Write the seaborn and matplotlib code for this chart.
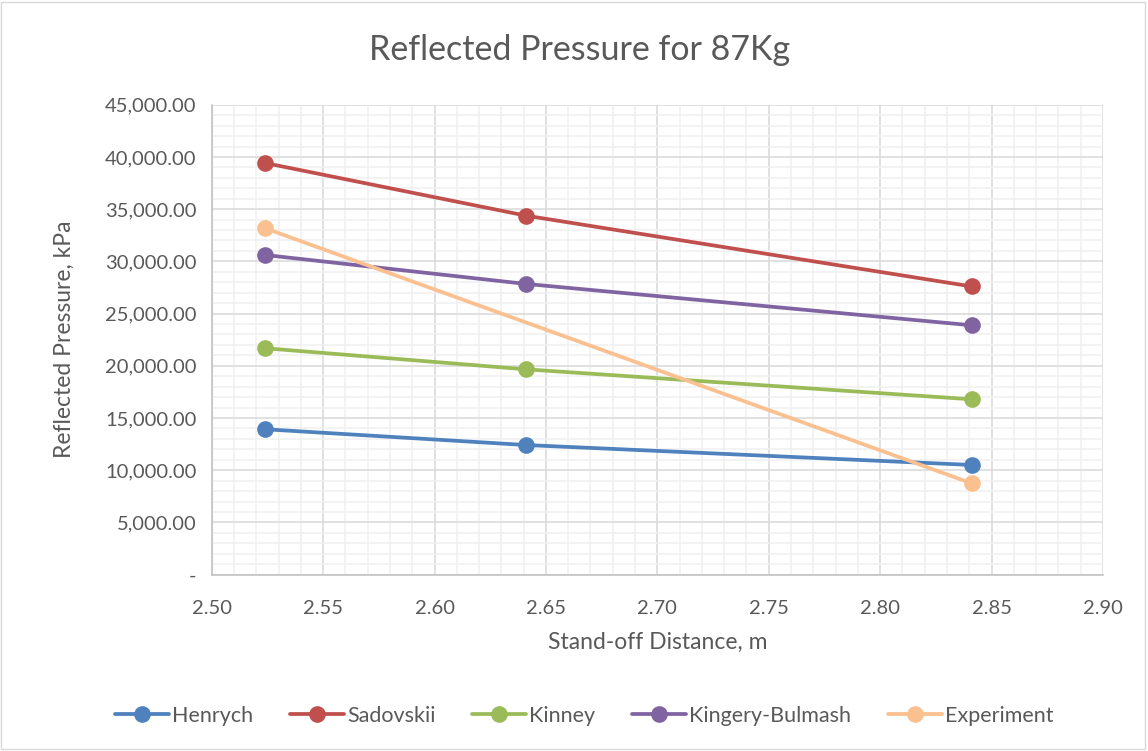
import matplotlib
matplotlib.use("Agg")
import matplotlib.pyplot as plt
from matplotlib.ticker import MultipleLocator, FuncFormatter
from matplotlib.patches import Rectangle
import seaborn as sns
import pandas as pd

# Stand-off distances (m) and reflected pressures (kPa)
distance = [2.524, 2.641, 2.841]
henrych = [13920, 12410, 10500]
sadovskii = [39420, 34380, 27600]
kinney = [21680, 19660, 16790]
kingery_bulmash = [30610, 27840, 23880]
experiment_distance = [2.524, 2.841]
experiment = [33170, 8745]

series_names = ["Henrych", "Sadovskii", "Kinney", "Kingery-Bulmash", "Experiment"]
palette = ["#4F81BD", "#C0504D", "#9BBB59", "#8064A2", "#FAC090"]

rows = []
for name, vals in zip(series_names[:4], [henrych, sadovskii, kinney, kingery_bulmash]):
    for d, v in zip(distance, vals):
        rows.append({"Distance": d, "Pressure": v, "Model": name})
for d, v in zip(experiment_distance, experiment):
    rows.append({"Distance": d, "Pressure": v, "Model": "Experiment"})
df = pd.DataFrame(rows)

sns.set_theme(style="white")
plt.rcParams["font.family"] = ["Lato", "DejaVu Sans"]
text_color = "#595959"

fig = plt.figure(figsize=(11.48, 7.51), dpi=100)
ax = fig.add_axes([0.1844, 0.2349, 0.7764, 0.6256])

sns.lineplot(data=df, x="Distance", y="Pressure", hue="Model",
             hue_order=series_names, palette=palette, marker="o",
             markersize=12, markeredgewidth=0, linewidth=2.7,
             sort=True, ax=ax, legend=True, zorder=3)

ax.set_xlim(2.50, 2.90)
ax.set_ylim(0, 45000)
ax.xaxis.set_major_locator(MultipleLocator(0.05))
ax.xaxis.set_minor_locator(MultipleLocator(0.01))
ax.yaxis.set_major_locator(MultipleLocator(5000))
ax.yaxis.set_minor_locator(MultipleLocator(1000))
ax.xaxis.set_major_formatter(FuncFormatter(lambda v, p: f"{v:.2f}"))
ax.yaxis.set_major_formatter(
    FuncFormatter(lambda v, p: "-" if abs(v) < 1e-9 else f"{v:,.2f}"))

ax.grid(which="major", color="#d9d9d9", linewidth=1.1, zorder=0)
ax.grid(which="minor", color="#f0f0f0", linewidth=1.1, zorder=0)
ax.set_axisbelow(True)
for side in ["top", "right"]:
    ax.spines[side].set_visible(False)
for side in ["left", "bottom"]:
    ax.spines[side].set_color("#bfbfbf")
    ax.spines[side].set_linewidth(1.1)

ax.tick_params(axis="both", which="both", length=0, labelsize=14.5,
               labelcolor=text_color)
ax.tick_params(axis="x", pad=18)
ax.tick_params(axis="y", pad=11)

ax.set_xlabel("Stand-off Distance, m", fontsize=16.5, color=text_color, labelpad=11)
ax.set_ylabel("Reflected Pressure, kPa", fontsize=16.5, color=text_color, labelpad=22)
fig.text(0.505, 0.933, "Reflected Pressure for 87Kg", fontsize=24.5,
         color=text_color, ha="center", va="center")

handles, labels = ax.get_legend_handles_labels()
ax.legend(handles, labels, loc="center", bbox_to_anchor=(0.509, 0.047),
          bbox_transform=fig.transFigure, ncol=5, frameon=False,
          fontsize=15.5, labelcolor=text_color, handlelength=2.5,
          handletextpad=0.15, columnspacing=1.7)

fig.patches.append(Rectangle((0.001, 0.002), 0.996, 0.996, transform=fig.transFigure,
                             fill=False, edgecolor="#d9d9d9", linewidth=1.0))

fig.savefig("out.png", dpi=100, facecolor="white")
